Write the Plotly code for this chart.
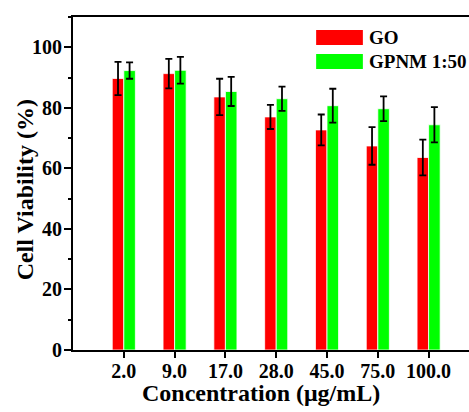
import plotly.graph_objects as go

# Concentration levels (µg/mL) and cell viability (%) with standard deviations
concentrations = ["2.0", "9.0", "17.0", "28.0", "45.0", "75.0", "100.0"]
go_viability = [89.7, 91.3, 83.6, 77.0, 72.7, 67.4, 63.6]
go_error = [5.5, 4.9, 6.0, 4.0, 5.1, 6.2, 5.9]
gpnm_viability = [92.3, 92.4, 85.4, 83.0, 80.7, 79.7, 74.4]
gpnm_error = [2.7, 4.4, 4.8, 4.0, 5.6, 4.1, 5.8]
series_names = ["GO", "GPNM 1:50"]
series_colors = ["#ff0000", "#00ff00"]

FONT = "Liberation Serif, Times New Roman, serif"

fig = go.Figure()
for name, vals, errs, color in zip(series_names,
                                   [go_viability, gpnm_viability],
                                   [go_error, gpnm_error],
                                   series_colors):
    fig.add_trace(go.Bar(
        x=concentrations, y=vals, name=name,
        marker=dict(color=color, line=dict(color="white", width=0.8)),
        error_y=dict(type="data", array=errs, color="black",
                     thickness=1.8, width=3.5),
        showlegend=False,
    ))

# Hand-drawn legend block with wide colour swatches
legend_rows = [(0.961, 0.916), (0.889, 0.844)]
for (y1, y0), name, color in zip(legend_rows, series_names, series_colors):
    fig.add_shape(type="rect", xref="paper", yref="paper",
                  x0=0.614, x1=0.732, y0=y0, y1=y1,
                  fillcolor=color, line=dict(width=0))
    fig.add_annotation(xref="paper", yref="paper", x=0.743, y=(y0 + y1) / 2,
                       text=name, showarrow=False, xanchor="left",
                       yanchor="middle",
                       font=dict(family=FONT, size=19, color="black",
                                 weight="bold"))

# Axis titles placed as annotations for precise positioning
fig.add_annotation(xref="paper", yref="paper", x=0.475, y=-0.129,
                   text="Concentration (μg/mL)", showarrow=False,
                   xanchor="center", yanchor="middle",
                   font=dict(family=FONT, size=24, color="black",
                             weight="bold"))
fig.add_annotation(xref="paper", yref="paper", x=-0.119, y=0.482,
                   text="Cell Viability (%)", showarrow=False, textangle=-90,
                   xanchor="center", yanchor="middle",
                   font=dict(family=FONT, size=24, color="black",
                             weight="bold"))

fig.update_layout(
    width=469, height=412,
    margin=dict(l=73, r=0, t=17, b=62),
    paper_bgcolor="white", plot_bgcolor="white",
    barmode="group", bargap=0.545, bargroupgap=0.0,
    font=dict(family=FONT, color="black", weight="bold"),
)
fig.update_xaxes(
    range=[-1, 6.795], automargin=False,
    showline=True, linecolor="black", linewidth=2, mirror=True,
    ticks="outside", ticklen=6, tickwidth=2, tickcolor="black",
    tickfont=dict(family=FONT, size=20, weight="bold"),
    ticklabelstandoff=-4,
    showgrid=False, zeroline=False,
)
fig.update_yaxes(
    range=[0, 110], tickvals=[0, 20, 40, 60, 80, 100], automargin=False,
    showline=True, linecolor="black", linewidth=2, mirror=False,
    ticks="outside", ticklen=7, tickwidth=2, tickcolor="black",
    minor=dict(tickvals=[10, 30, 50, 70, 90, 110], ticks="outside",
               ticklen=3, tickwidth=2, tickcolor="black", showgrid=False),
    tickfont=dict(family=FONT, size=20, weight="bold"),
    ticklabelstandoff=-2,
    showgrid=False, zeroline=False,
)

fig.write_html("out.html")
